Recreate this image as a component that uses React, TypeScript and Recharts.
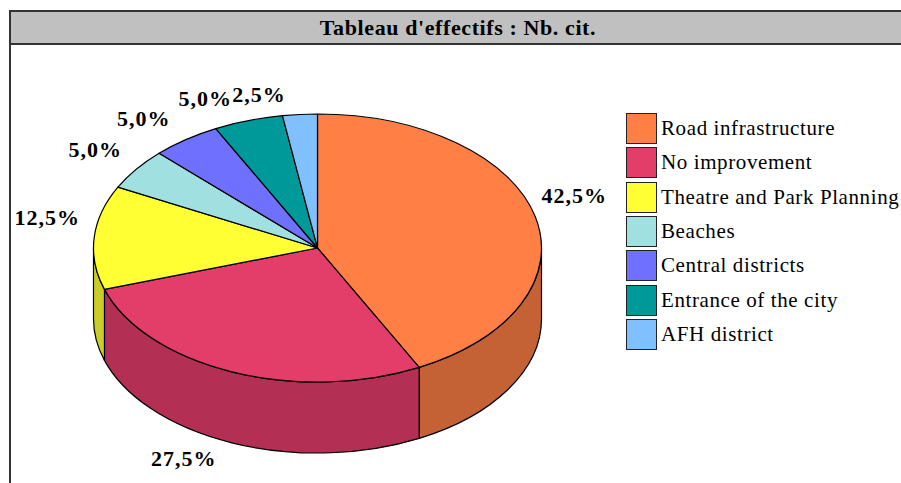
import { Legend, Pie, PieChart } from "recharts";

const categories = [
  "Road infrastructure",
  "No improvement",
  "Theatre and Park Planning",
  "Beaches",
  "Central districts",
  "Entrance of the city",
  "AFH district",
];
const citations = [17, 11, 5, 2, 2, 2, 1];
const topColors = ["#FF7F45", "#E33E69", "#FFFF33", "#A0E0E0", "#7070FF", "#009999", "#80C0FF"];
const sideColors = ["#C46236", "#B33054", "#CCCC29", "#80B3B3", "#5A5ACC", "#007A7A", "#6699CC"];

// where each percentage sits relative to its slice's point on the rim
const labelNudges = [
  [39, -21],
  [-48, 87],
  [-47, -20],
  [-41, -20],
  [-42, -21],
  [-43, -22],
  [-41, -20],
];

const tableData = categories.map((name, i) => ({
  name,
  value: citations[i],
  fill: topColors[i],
}));

const SERIF = '"Liberation Serif", serif';
const SQUASH = 134 / 224; // ellipse height / width of the pie top
const DEPTH = 71;
const RAD = Math.PI / 180;

function rimPoint(cx: number, cy: number, r: number, angle: number) {
  return [cx + r * Math.cos(angle * RAD), cy - r * SQUASH * Math.sin(angle * RAD)];
}

function TiltedSlice(props: any) {
  const { cx, cy, outerRadius: r, startAngle, endAngle, index, fill } = props;
  const ry = r * SQUASH;
  const [x1, y1] = rimPoint(cx, cy, r, startAngle);
  const [x2, y2] = rimPoint(cx, cy, r, endAngle);
  const large = Math.abs(startAngle - endAngle) > 180 ? 1 : 0;
  const top = `M${cx},${cy} L${x1},${y1} A${r},${ry} 0 ${large} 1 ${x2},${y2} Z`;

  // the side wall only shows on the front half of the ellipse
  const wallStart = Math.min(startAngle, 0);
  const wallEnd = Math.max(endAngle, -180);
  let wall = null;
  if (wallStart > wallEnd) {
    const [wx1, wy1] = rimPoint(cx, cy, r, wallStart);
    const [wx2, wy2] = rimPoint(cx, cy, r, wallEnd);
    wall = (
      <path
        d={`M${wx1},${wy1} A${r},${ry} 0 0 1 ${wx2},${wy2} L${wx2},${wy2 + DEPTH} A${r},${ry} 0 0 0 ${wx1},${wy1 + DEPTH} Z`}
        fill={sideColors[index]}
        stroke="#000"
        strokeWidth={1.2}
      />
    );
  }
  return (
    <g>
      {wall}
      <path d={top} fill={fill} stroke="#000" strokeWidth={1.2} strokeLinejoin="round" />
    </g>
  );
}

function PercentLabel(props: any) {
  const { cx, cy, outerRadius, midAngle, percent, index } = props;
  const [x, y] = rimPoint(cx, cy, outerRadius, midAngle);
  return (
    <text
      x={x + labelNudges[index][0]}
      y={y + labelNudges[index][1]}
      textAnchor="middle"
      dominantBaseline="central"
      fontFamily={SERIF}
      fontWeight="bold"
      fontSize={22}
      letterSpacing={1}
      fill="#000"
    >
      {(percent * 100).toFixed(1).replace(".", ",") + "%"}
    </text>
  );
}

function BoxLegend() {
  return (
    <div style={{ fontFamily: SERIF, fontSize: 21, letterSpacing: 0.6, lineHeight: "31px", color: "#000" }}>
      {categories.map((name, i) => (
        <div key={name} style={{ display: "flex", height: 34.33, whiteSpace: "nowrap" }}>
          <div
            style={{
              width: 29,
              height: 29,
              flex: "none",
              background: topColors[i],
              border: "1.5px solid #222",
              marginRight: 4,
            }}
          />
          <span>{name}</span>
        </div>
      ))}
    </div>
  );
}

export default function App() {
  return (
    <div style={{ position: "absolute", left: 0, top: 0, width: 901, height: 483, overflow: "hidden", background: "#fff" }}>
      <div
        style={{
          position: "absolute",
          left: 9,
          top: 10,
          width: 900,
          height: 473,
          boxSizing: "border-box",
          borderLeft: "2px solid #333",
          borderTop: "2px solid #333",
        }}
      />
      <div
        style={{
          position: "absolute",
          left: 11,
          top: 12,
          width: 890,
          height: 31,
          boxSizing: "content-box",
          background: "#C0C0C0",
          borderBottom: "2px solid #333",
          fontFamily: SERIF,
          fontWeight: "bold",
          fontSize: 22,
          letterSpacing: 0.6,
          lineHeight: "32px",
          textAlign: "center",
          textIndent: 4,
          color: "#000",
        }}
      >
        Tableau d'effectifs : Nb. cit.
      </div>
      <PieChart
        width={901}
        height={483}
        margin={{ top: 0, right: 0, bottom: 0, left: 0 }}
        style={{ position: "absolute", left: 0, top: 0 }}
      >
        <Pie
          data={tableData}
          dataKey="value"
          nameKey="name"
          cx={317.5}
          cy={248}
          innerRadius={0}
          outerRadius={224}
          startAngle={90}
          endAngle={-270}
          stroke="#000"
          shape={TiltedSlice}
          label={PercentLabel}
          labelLine={false}
          isAnimationActive={false}
        />
        <Legend
          content={BoxLegend}
          layout="vertical"
          wrapperStyle={{ position: "absolute", left: 626, top: 113, width: 275, bottom: "auto" }}
        />
      </PieChart>
    </div>
  );
}
